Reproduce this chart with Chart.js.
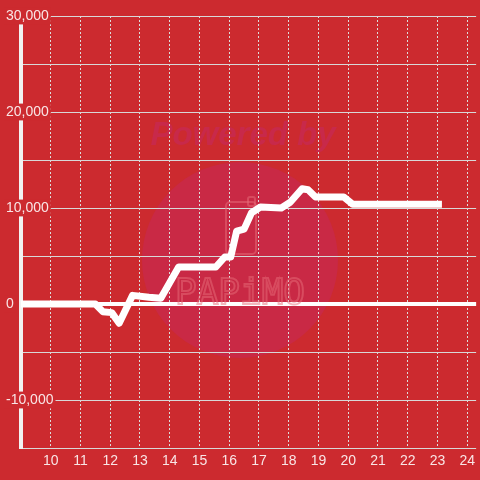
<!DOCTYPE html>
<html>
<head>
<meta charset="utf-8">
<script src="https://cdn.jsdelivr.net/npm/chart.js@4"></script>
<style>
  html, body { margin: 0; padding: 0; background: #cc2a2f; }
  #wrap { width: 480px; height: 480px; position: relative; }
</style>
</head>
<body>
<div id="wrap"><canvas id="chart"></canvas></div>
<script>
// x positions (axis units) and values
const xValues = [9, 11.5, 11.75, 12.05, 12.3, 12.75, 13.3, 13.7, 14.3, 15.55, 15.85, 16.05, 16.25, 16.5, 16.75, 17.05, 17.75, 18.05, 18.45, 18.65, 18.9, 19.85, 20.15, 23.15];
const yValues = [0, 0, -800, -900, -2000, 900, 700, 600, 3850, 3850, 4900, 4900, 7600, 7800, 9500, 10100, 10000, 10600, 12000, 11900, 11150, 11150, 10400, 10400];
const xTicks = [9, 10, 11, 12, 13, 14, 15, 16, 17, 18, 19, 20, 21, 22, 23, 24];
const yTicks = [-15000, -10000, -5000, 0, 5000, 10000, 15000, 20000, 25000, 30000];

const BG = "#cc2a2f";
const TICK_FONT = { family: "'Liberation Sans', Arial, sans-serif", size: 14 };
const TICK_COLOR = "rgba(255,255,255,0.88)";

// watermark: circle + "Powered by" under everything, logo over the grid
const watermark = {
  id: "watermark",
  beforeDraw(chart) {
    const ctx = chart.ctx;
    ctx.save();
    ctx.fillStyle = "#c92945";
    ctx.beginPath();
    ctx.arc(240, 260, 98, 0, Math.PI * 2);
    ctx.fill();
    ctx.fillStyle = "#c8294a";
    ctx.font = "italic bold 33px 'Liberation Sans', Arial, sans-serif";
    ctx.textAlign = "center";
    ctx.textBaseline = "alphabetic";
    ctx.fillText("Powered by", 243, 145);
    ctx.restore();
  },
  beforeDatasetsDraw(chart) {
    const ctx = chart.ctx;
    ctx.save();
    ctx.strokeStyle = "rgba(232,110,122,0.5)";
    ctx.lineWidth = 2;
    ctx.beginPath();
    ctx.roundRect(226, 202, 30, 52, 4);
    ctx.stroke();
    ctx.beginPath();
    ctx.roundRect(248, 197, 7, 9, 2);
    ctx.stroke();
    ctx.font = "36px 'DejaVu Sans Mono', monospace";
    ctx.textAlign = "center";
    ctx.lineWidth = 2;
    ctx.strokeText("PAPiMO", 240, 304);
    ctx.restore();
  }
};

new Chart(document.getElementById("chart"), {
  type: "line",
  data: {
    datasets: [{
      data: xValues.map((x, i) => ({ x: x, y: yValues[i] })),
      borderColor: "#ffffff",
      borderWidth: 7,
      borderJoinStyle: "round",
      pointRadius: 0,
      tension: 0,
      fill: false
    }]
  },
  options: {
    responsive: true,
    maintainAspectRatio: false,
    animation: false,
    layout: { padding: { top: 16, left: 6, right: 0, bottom: 0 } },
    plugins: { legend: { display: false }, tooltip: { enabled: false } },
    scales: {
      x: {
        type: "linear",
        min: 9,
        max: 24.3,
        afterBuildTicks: s => { s.ticks = xTicks.map(v => ({ value: v })); },
        afterFit: s => { s.height = 32; },
        ticks: {
          padding: 5,
          color: TICK_COLOR,
          font: TICK_FONT,
          maxRotation: 0,
          autoSkip: false,
          callback: v => (v === 9 ? "" : String(v))
        },
        grid: {
          color: ctx => (ctx.tick && ctx.tick.value === 9 ? "rgba(0,0,0,0)" : "#dcdcdc"),
          lineWidth: 1,
          drawTicks: false
        },
        border: { display: false, dash: [2, 2] }
      },
      y: {
        type: "linear",
        min: -15000,
        max: 30000,
        afterBuildTicks: s => { s.ticks = yTicks.map(v => ({ value: v })); },
        afterFit: s => { s.width = 15; },
        ticks: {
          mirror: true,
          crossAlign: "near",
          padding: -15,
          color: TICK_COLOR,
          font: TICK_FONT,
          showLabelBackdrop: ctx => ctx.tick && ctx.tick.value % 10000 === 0,
          backdropColor: BG,
          backdropPadding: { x: 2, y: 0 },
          callback: v => (v % 10000 === 0 ? v.toLocaleString("en-US") : "")
        },
        grid: {
          color: ctx => (ctx.tick && ctx.tick.value === 0 ? "#ffffff" : "#d8d8d8"),
          lineWidth: ctx => (ctx.tick && ctx.tick.value === 0 ? 4 : 1),
          drawTicks: false
        },
        border: { color: "#f2f2f2", width: 4 }
      }
    }
  },
  plugins: [watermark]
});
</script>
</body>
</html>
